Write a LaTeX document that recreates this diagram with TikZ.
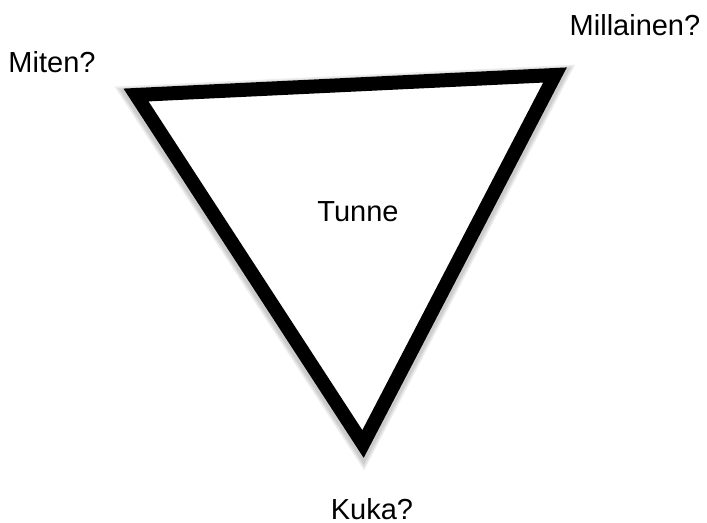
\documentclass[tikz,border=0pt]{standalone}
\usepackage{fontspec}
\setmainfont{Liberation Sans}
\begin{document}
\begin{tikzpicture}[x=0.02cm,y=-0.02cm,
  label/.style={font=\fontsize{16.5}{20}\selectfont, inner sep=0pt},
  edge/.style={line width=14*0.02cm, line join=miter, draw=black, fill=white},
  glow/.style={line width=#1*0.02cm, line join=miter, draw=black, opacity=0.07}
]
\useasboundingbox (0,0) rectangle (707,523);
% Corners
\coordinate (how) at (136,95);
\coordinate (what) at (555,75);
\coordinate (who) at (363,444);

% Soft shadow and triangle
\foreach \w in {24,21,18}
  \draw[glow=\w, transform canvas={shift={(0pt,-1.5pt)}}] (how) -- (what) -- (who) -- cycle;
\draw[edge] (how) -- (what) -- (who) -- cycle;

% Labels
\node[label] (miten) at (52,62) {Miten?};
\node[label] (millainen) at (635,25) {Millainen?};
\node[label] (tunne) at (358,212) {Tunne};
\node[label] (kuka) at (372,509) {Kuka?};
\end{tikzpicture}
\end{document}
